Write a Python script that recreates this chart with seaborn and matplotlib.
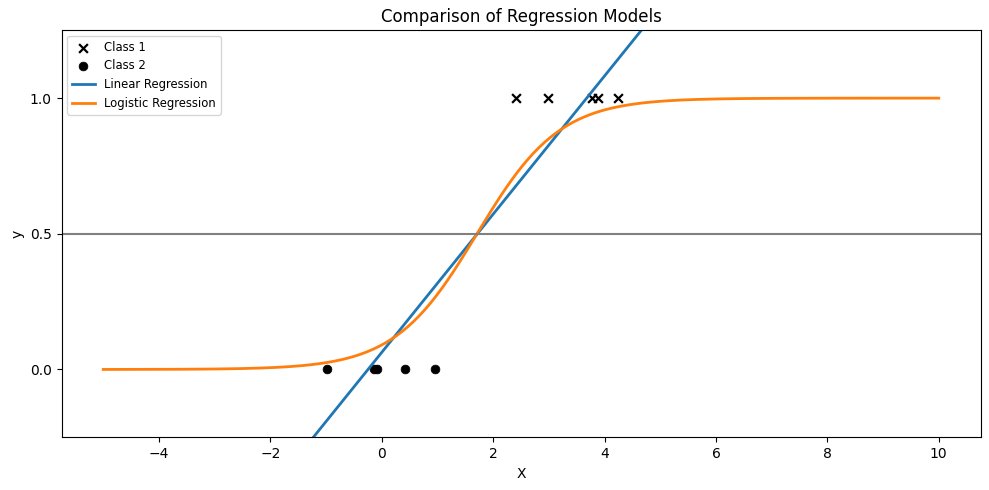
import numpy as np
import pandas as pd
import matplotlib
matplotlib.use("Agg")
import matplotlib.pyplot as plt
import seaborn as sns

# Data
class1_x = [2.41, 2.98, 3.78, 3.88, 4.24]
class1_y = [1, 1, 1, 1, 1]
class2_x = [-0.98, -0.14, -0.08, 0.41, 0.95]
class2_y = [0, 0, 0, 0, 0]

# Model parameters
linear_slope = 0.2547
linear_intercept = 0.063
logistic_coef = 1.35
logistic_center = 1.71

x_range = [-5, 10]

x_grid = np.linspace(x_range[0], x_range[1], 300)
lin_df = pd.DataFrame({"X": x_grid, "y": linear_slope * x_grid + linear_intercept})
log_df = pd.DataFrame({"X": x_grid,
                       "y": 1.0 / (1.0 + np.exp(-logistic_coef * (x_grid - logistic_center)))})
c1 = pd.DataFrame({"X": class1_x, "y": class1_y})
c2 = pd.DataFrame({"X": class2_x, "y": class2_y})

fig, ax = plt.subplots(figsize=(9.89, 4.9), dpi=100)
sns.scatterplot(data=c1, x="X", y="y", marker="x", color="black", s=40,
                linewidth=1.6, label="Class 1", ax=ax)
sns.scatterplot(data=c2, x="X", y="y", marker="o", color="black", s=40,
                edgecolor="black", label="Class 2", ax=ax)
sns.lineplot(data=lin_df, x="X", y="y", color="C0", linewidth=2,
             label="Linear Regression", ax=ax)
sns.lineplot(data=log_df, x="X", y="y", color="C1", linewidth=2,
             label="Logistic Regression", ax=ax)
ax.axhline(0.5, color="gray", linewidth=1.5)
ax.set_ylim(-0.25, 1.25)
ax.set_xlim(-5.75, 10.75)
ax.set_yticks([0.0, 0.5, 1.0])
ax.set_xlabel("X")
ax.set_ylabel("y")
ax.set_title("Comparison of Regression Models")
ax.legend(loc="upper left", fontsize="small")
fig.subplots_adjust(left=61.5 / 989, right=980.5 / 989,
                    top=1 - 30.3 / 490, bottom=1 - 437.3 / 490)
fig.savefig("out.png", dpi=100)
